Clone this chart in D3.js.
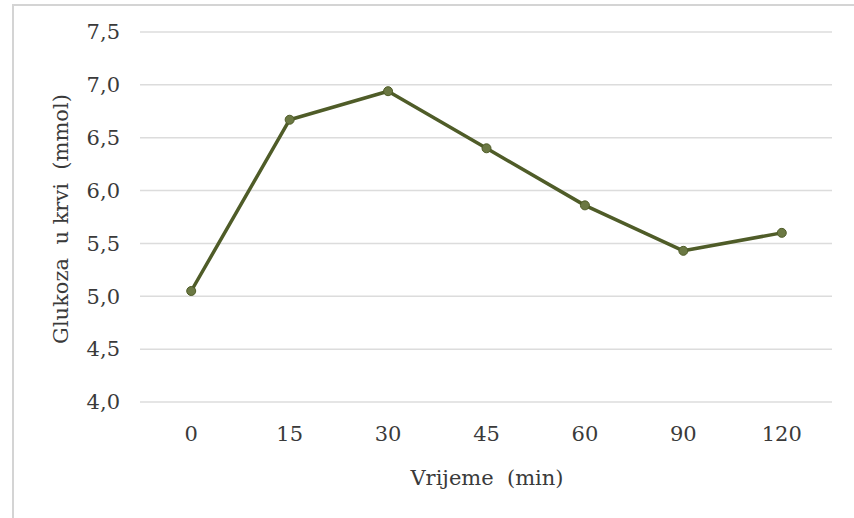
<html>
<head>
<meta charset="utf-8">
<script src="https://cdn.jsdelivr.net/npm/d3@7"></script>
<style>
  body { margin: 0; background: #fff; }
</style>
</head>
<body>
<script>
var w = 854;
var h = 518;
var serif = "'DejaVu Serif', 'Liberation Serif', serif";

// data
var times = ["0", "15", "30", "45", "60", "90", "120"];
var glucose = [5.05, 6.67, 6.94, 6.40, 5.86, 5.43, 5.60];
var yTicks = [4.0, 4.5, 5.0, 5.5, 6.0, 6.5, 7.0, 7.5];

var svg = d3.select("body").append("svg")
    .attr("width", w)
    .attr("height", h);

// frame: only top and left edges are visible
svg.append("line")
    .attr("x1", 12).attr("x2", w).attr("y1", 5).attr("y2", 5)
    .attr("stroke", "#d4d4d4").attr("stroke-width", 2);
svg.append("line")
    .attr("x1", 13).attr("x2", 13).attr("y1", 4).attr("y2", h)
    .attr("stroke", "#d4d4d4").attr("stroke-width", 2);

var x = d3.scaleBand()
    .domain(times)
    .range([142, 831]);

var y = d3.scaleLinear()
    .domain([4.0, 7.5])
    .range([402, 32]);

// gridlines
svg.append("g")
    .selectAll("line")
    .data(yTicks)
    .enter()
    .append("line")
    .attr("x1", 140)
    .attr("x2", 832)
    .attr("y1", function(d) { return y(d); })
    .attr("y2", function(d) { return y(d); })
    .attr("stroke", "#dcdcdc")
    .attr("stroke-width", 1.5);

var fmt = function(d) { return d3.format(".1f")(d).replace(".", ","); };

var yAxis = svg.append("g")
    .attr("transform", "translate(120,0)")
    .call(d3.axisLeft(y).tickValues(yTicks).tickFormat(fmt).tickSize(0).tickPadding(0));
yAxis.select(".domain").remove();
yAxis.selectAll("text")
    .style("font-family", serif)
    .style("font-size", "21px")
    .attr("fill", "#3a3a3a");

var xAxis = svg.append("g")
    .attr("transform", "translate(0,426)")
    .call(d3.axisBottom(x).tickSize(0).tickPadding(0));
xAxis.select(".domain").remove();
xAxis.selectAll("text")
    .style("font-family", serif)
    .style("font-size", "21px")
    .attr("fill", "#3a3a3a");

// axis titles
svg.append("text")
    .attr("x", 487)
    .attr("y", 485)
    .attr("text-anchor", "middle")
    .style("font-family", serif)
    .style("font-size", "21px")
    .style("white-space", "pre")
    .attr("fill", "#3a3a3a")
    .text("Vrijeme  (min)");

svg.append("text")
    .attr("transform", "translate(68,219) rotate(-90)")
    .attr("text-anchor", "middle")
    .style("font-family", serif)
    .style("font-size", "21px")
    .style("white-space", "pre")
    .attr("fill", "#3a3a3a")
    .text("Glukoza  u krvi  (mmol)");

// line
var line = d3.line()
    .x(function(d, i) { return x(times[i]) + x.bandwidth() / 2; })
    .y(function(d) { return y(d); });

svg.append("path")
    .datum(glucose)
    .attr("d", line)
    .attr("fill", "none")
    .attr("stroke", "#4f5c28")
    .attr("stroke-width", 3.5)
    .attr("stroke-linejoin", "round");

svg.selectAll(".pt")
    .data(glucose)
    .enter()
    .append("circle")
    .attr("class", "pt")
    .attr("cx", function(d, i) { return x(times[i]) + x.bandwidth() / 2; })
    .attr("cy", function(d) { return y(d); })
    .attr("r", 4.5)
    .attr("fill", "#6b7843")
    .attr("stroke", "#4f5c28")
    .attr("stroke-width", 1);
</script>
</body>
</html>
